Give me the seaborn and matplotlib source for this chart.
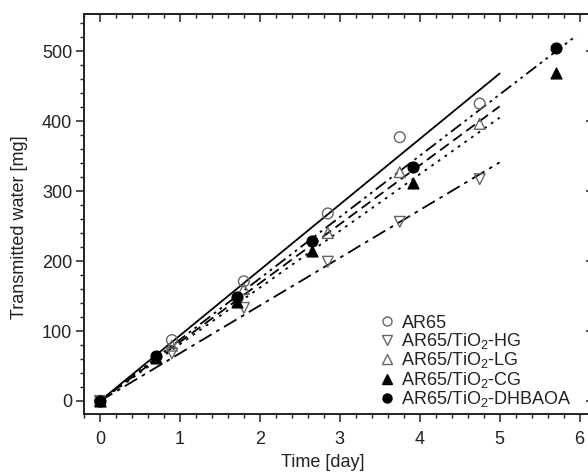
import numpy as np
import matplotlib
matplotlib.use("Agg")
import matplotlib.pyplot as plt
import seaborn as sns
from matplotlib.lines import Line2D
from matplotlib.ticker import MultipleLocator

# ---------------- data ----------------
t_a = [0, 0.9, 1.8, 2.85, 3.75, 4.75]           # AR65, HG, LG sampling times [day]
t_b = [0, 0.7, 1.72, 2.65, 3.92, 5.7]           # CG, DHBAOA sampling times [day]
ar65 = [0, 87, 171, 268, 377, 425]
hg = [0, 68, 133, 199, 256, 317]
lg = [0, 79, 160, 240, 327, 396]
cg = [0, 62, 141, 214, 311, 469]
dhbaoa = [0, 64, 149, 229, 334, 504]

labels = ["AR65", "AR65/TiO$_2$-HG", "AR65/TiO$_2$-LG",
          "AR65/TiO$_2$-CG", "AR65/TiO$_2$-DHBAOA"]
fit_slopes = [93.6, 68.2, 84.2, 81.0, 87.6]    # linear fits through origin [mg/day]
fit_end = [5.0, 5.0, 5.0, 5.0, 5.96]            # x extent of fit lines

# ---------------- style ----------------
sns.set_theme(style="ticks")
plt.rcParams["font.family"] = ["Liberation Sans", "DejaVu Sans"]
plt.rcParams["mathtext.fontset"] = "custom"
plt.rcParams["mathtext.rm"] = "Liberation Sans"
plt.rcParams["mathtext.it"] = "Liberation Sans:italic"

FS = 13
fig = plt.figure(figsize=(5.88, 4.73), dpi=100)
ax = fig.add_axes([84 / 588, 59 / 473, 510 / 588, 400 / 473])

gray = "#666666"
series = [
    (t_a, ar65, "o", "none", gray),
    (t_a, hg, "v", "none", gray),
    (t_a, lg, "^", "none", gray),
    (t_b, cg, "^", "black", "black"),
    (t_b, dhbaoa, "o", "black", "black"),
]
styles = ["-", (0, (8, 3, 2, 3)), (0, (6, 3)), (0, (1.5, 3)),
          (0, (7, 2.5, 1.5, 2.5, 1.5, 2.5))]

for (tx, vals, m, fc, ec), k, xe, ls in zip(series, fit_slopes, fit_end, styles):
    xs = np.array([0.0, xe])
    ax.plot(xs, k * xs, color="black", lw=1.3, ls=ls, zorder=2)

for tx, vals, m, fc, ec in series:
    sns.scatterplot(x=tx, y=vals, marker=m, s=60, facecolor=fc, edgecolor=ec,
                    linewidth=1.0, ax=ax, zorder=3, legend=False)

ax.set_xlim(-0.2, 6.18)
ax.set_ylim(-18.6, 553)
ax.xaxis.set_major_locator(MultipleLocator(1))
ax.xaxis.set_minor_locator(MultipleLocator(0.2))
ax.yaxis.set_major_locator(MultipleLocator(100))
ax.yaxis.set_minor_locator(MultipleLocator(20))

for sp in ax.spines.values():
    sp.set_linewidth(1.4)
    sp.set_color("#222222")

ax.tick_params(which="major", direction="out", length=5.5, width=1.1,
               labelsize=FS, colors="#222222", pad=7)
ax.tick_params(which="minor", direction="out", length=3, width=1.0, colors="#222222")
ax.tick_params(axis="y", pad=3)

# top and right axes with inward ticks
top = ax.secondary_xaxis("top")
top.xaxis.set_major_locator(MultipleLocator(1))
top.xaxis.set_minor_locator(MultipleLocator(0.2))
top.tick_params(which="major", direction="in", length=5.5, width=1.1, labeltop=False,
                colors="#222222")
top.tick_params(which="minor", direction="in", length=3, width=1.0, colors="#222222")
top.spines["top"].set_linewidth(1.4)
right = ax.secondary_yaxis("right")
right.yaxis.set_major_locator(MultipleLocator(100))
right.yaxis.set_minor_locator(MultipleLocator(20))
right.tick_params(which="major", direction="in", length=5.5, width=1.1, labelright=False,
                  colors="#222222")
right.tick_params(which="minor", direction="in", length=3, width=1.0, colors="#222222")

ax.set_xlabel("Time [day]", fontsize=FS, color="#222222")
ax.set_ylabel("Transmitted water [mg]", fontsize=FS, color="#222222")
ax.xaxis.set_label_coords(0.469, -0.1)
ax.yaxis.set_label_coords(-0.11, 0.467)

handles = [Line2D([], [], ls="none", marker=m, markersize=6.5, markerfacecolor=fc,
                  markeredgecolor=ec, markeredgewidth=1.0)
           for _, _, m, fc, ec in series]
leg = ax.legend(handles, labels, loc="lower left", bbox_to_anchor=(0.557, -0.02),
                frameon=False, fontsize=FS, handlelength=0.7, handletextpad=0.45,
                labelspacing=-0.03, borderpad=0.2)
for txt in leg.get_texts():
    txt.set_color("#222222")

fig.savefig("out.png", dpi=100)
